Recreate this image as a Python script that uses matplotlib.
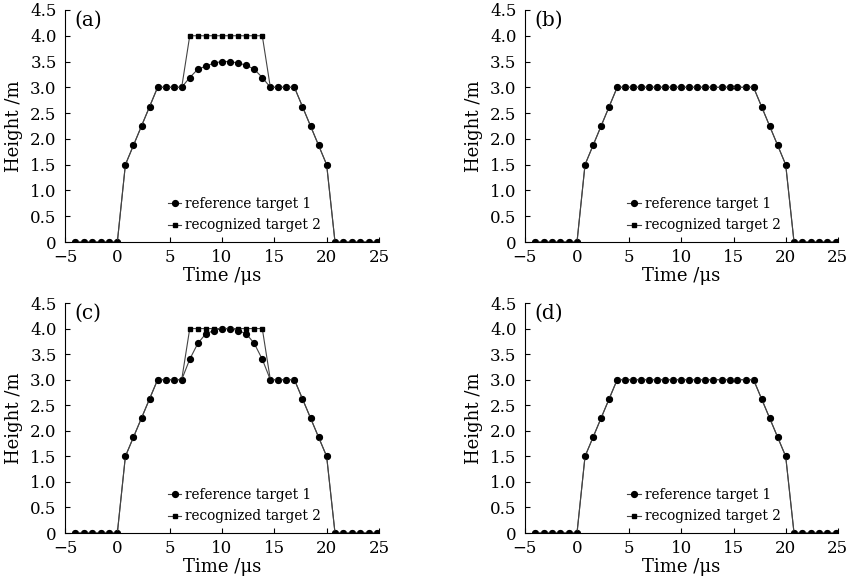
import matplotlib
matplotlib.use('Agg')
import matplotlib.pyplot as plt


# sample times (us), shared by every panel
time_us = [-4.0, -3.2, -2.4, -1.6, -0.8, 0.0,
           0.77, 1.54, 2.31, 3.08,
           3.85, 4.62, 5.38, 6.15, 6.92, 7.69, 8.46, 9.23, 10.0,
           10.77, 11.54, 12.31, 13.08, 13.85, 14.62, 15.38, 16.15, 16.92,
           17.69, 18.46, 19.23, 20.0,
           20.8, 21.6, 22.4, 23.2, 24.0, 24.8]

zeros = [0, 0, 0, 0, 0, 0]
ramp_up = [1.5, 1.875, 2.25, 2.625]
ramp_down = [2.625, 2.25, 1.875, 1.5]

# (a)
ref_a = zeros + ramp_up + [3.0, 3.0, 3.0, 3.0,
                           3.19, 3.35, 3.41, 3.47, 3.50, 3.50, 3.47, 3.43, 3.35, 3.19,
                           3.0, 3.0, 3.0, 3.0] + ramp_down + zeros
rec_a = zeros + ramp_up + [3.0, 3.0, 3.0, 3.0,
                           4.0, 4.0, 4.0, 4.0, 4.0, 4.0, 4.0, 4.0, 4.0, 4.0,
                           3.0, 3.0, 3.0, 3.0] + ramp_down + zeros
# (b)
ref_b = zeros + ramp_up + [3.0] * 18 + ramp_down + zeros
rec_b = zeros + ramp_up + [3.0] * 18 + ramp_down + zeros
# (c)
ref_c = zeros + ramp_up + [3.0, 3.0, 3.0, 3.0,
                           3.40, 3.71, 3.90, 3.96, 4.0, 4.0, 3.96, 3.90, 3.71, 3.40,
                           3.0, 3.0, 3.0, 3.0] + ramp_down + zeros
rec_c = rec_a
# (d)
ref_d = ref_b
rec_d = rec_b

panels = [('(a)', ref_a, rec_a), ('(b)', ref_b, rec_b),
          ('(c)', ref_c, rec_c), ('(d)', ref_d, rec_d)]
positions = [[0.0763, 0.587, 0.3685, 0.396], [0.616, 0.587, 0.3674, 0.396],
             [0.0763, 0.0904, 0.3685, 0.3925], [0.616, 0.0904, 0.3674, 0.3925]]

x_ticks = [-5, 0, 5, 10, 15, 20, 25]
y_ticks = [0, 0.5, 1.0, 1.5, 2.0, 2.5, 3.0, 3.5, 4.0, 4.5]
y_tick_labels = ['0', '0.5', '1.0', '1.5', '2.0', '2.5', '3.0', '3.5', '4.0', '4.5']

plt.rcParams['font.family'] = ['DejaVu Serif']
plt.rcParams['axes.unicode_minus'] = True

fig = plt.figure(figsize=(8.52, 5.86), dpi=100)

for (tag, ref, rec), pos in zip(panels, positions):
    ax = fig.add_axes(pos)
    ax.plot(time_us, ref, color='#444444', lw=0.8, marker='o', ms=4.2,
            mfc='black', mec='black', label='reference target 1')
    ax.plot(time_us, rec, color='#444444', lw=0.8, marker='s', ms=3.2,
            mfc='black', mec='black', label='recognized target 2')
    ax.set_xlim(-5, 25)
    ax.set_ylim(0, 4.5)
    ax.set_xticks(x_ticks)
    ax.set_yticks(y_ticks)
    ax.set_yticklabels(y_tick_labels)
    ax.spines['top'].set_visible(False)
    ax.spines['right'].set_visible(False)
    ax.tick_params(direction='in', length=3.5, labelsize=12, width=0.8)
    ax.tick_params(axis='x', pad=5)
    ax.tick_params(axis='y', pad=6)
    ax.set_xlabel('Time /μs', fontsize=13, labelpad=0.5)
    ax.set_ylabel('Height /m', fontsize=13, labelpad=5)
    ax.text(0.03, 0.998, tag, transform=ax.transAxes, ha='left', va='top', fontsize=14.5)
    ax.legend(loc='lower left', bbox_to_anchor=(0.31, 0.018), frameon=False,
              fontsize=9.8, handlelength=1.0, handletextpad=0.3,
              labelspacing=0.55, borderaxespad=0.0, numpoints=1)

fig.savefig('out.png', dpi=100)
